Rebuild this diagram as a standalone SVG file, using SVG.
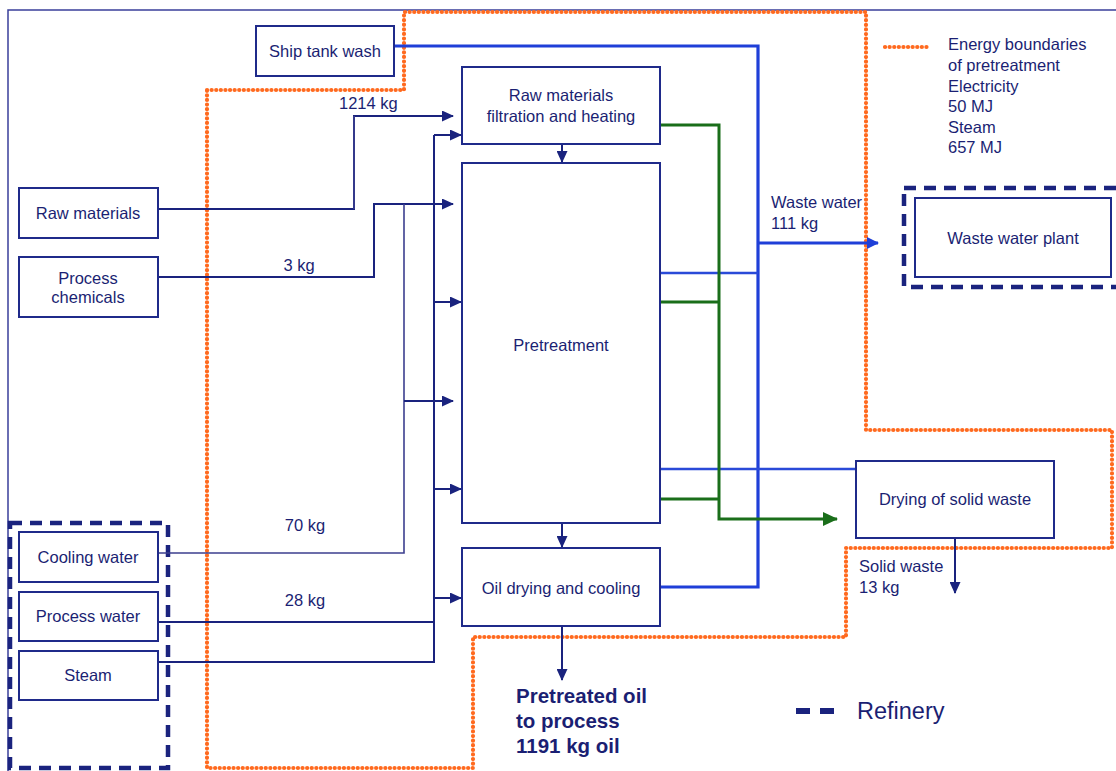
<svg xmlns="http://www.w3.org/2000/svg" width="1116" height="771" viewBox="0 0 1116 771">
<defs>
<style>
.t{font-family:"Liberation Sans",Arial,sans-serif;font-size:16.5px;fill:#1b1f73}
.b{font-family:"Liberation Sans",Arial,sans-serif;font-size:20.5px;font-weight:bold;fill:#1b1f73}
.box{fill:#fff;stroke:#1f2a8a;stroke-width:2}
.ref{fill:none;stroke:#1a237e;stroke-width:4.5;stroke-dasharray:12 8}
.orange{fill:none;stroke:#ff6a1f;stroke-width:4.2;stroke-linecap:round;stroke-dasharray:0.1 4.5}
.nv{fill:none;stroke:#1a237e;stroke-width:2}
.nvl{fill:none;stroke:#3c3f8f;stroke-width:1.6}
.bl{fill:none;stroke:#1f3fd8;stroke-width:3.2}
.bl2{fill:none;stroke:#2a4ad8;stroke-width:2.6}
.gr{fill:none;stroke:#1a6e1a;stroke-width:3}
</style>
<marker id="an" markerWidth="12" markerHeight="11" refX="11" refY="5.5" orient="auto" markerUnits="userSpaceOnUse"><path d="M0,0 L12,5.5 L0,11 Z" fill="#1a237e"/></marker>
<marker id="ab" markerWidth="12" markerHeight="12" refX="11" refY="6" orient="auto" markerUnits="userSpaceOnUse"><path d="M0,0 L12,6 L0,12 Z" fill="#1f3fd8"/></marker>
<marker id="ag" markerWidth="15" markerHeight="14" refX="14" refY="7" orient="auto" markerUnits="userSpaceOnUse"><path d="M0,0 L15,7 L0,14 Z" fill="#1a6e1a"/></marker>
</defs>
<rect width="1116" height="771" fill="#fff"/>
<path d="M8,771 L8,10 L1116,10" fill="none" stroke="#3a3f9a" stroke-width="1.5"/>

<!-- energy boundary -->
<path class="orange" d="M207,90 L404,90 L404,12 L866,12 L866,430 L1112,430 L1112,548 L846,548 L846,637 L473,637 L473,768 L207,768 Z"/>

<!-- refinery dashed boxes -->
<rect class="ref" x="10" y="523" width="158" height="245"/>
<rect class="ref" x="904" y="188" width="220" height="99"/>

<g id="connectors">
<!-- raw materials -->
<path class="nv" d="M158,209 L354,209 L354,116 L453,116" marker-end="url(#an)"/>
<path class="nvl" d="M354,209 L354,116"/>
<!-- process chemicals -->
<path class="nv" d="M158,277 L374,277 L374,204 L453,204" marker-end="url(#an)"/>
<!-- cooling water -->
<path class="nvl" d="M158,553 L404,553 L404,204"/>
<path class="nv" d="M404,401 L453,401" marker-end="url(#an)"/>
<!-- process water and steam -->
<path class="nv" d="M158,622 L434,622"/>
<path class="nv" d="M158,662 L434,662 L434,135"/>
<path class="nv" d="M434,135 L461,135" marker-end="url(#an)"/>
<path class="nv" d="M434,302 L461,302" marker-end="url(#an)"/>
<path class="nv" d="M434,489 L461,489" marker-end="url(#an)"/>
<path class="nv" d="M434,598 L461,598" marker-end="url(#an)"/>
<!-- vertical flow -->
<path class="nv" d="M562,144 L562,162" marker-end="url(#an)"/>
<path class="nv" d="M562,523 L562,547" marker-end="url(#an)"/>
<path class="nv" d="M562,626 L562,680" marker-end="url(#an)"/>
<path class="nv" d="M955,538 L955,593" marker-end="url(#an)"/>
<!-- blue waste water -->
<path class="bl" d="M394,46 L758,46 L758,587 L660,587"/>
<path class="bl" d="M758,243 L878,243" stroke-width="4" marker-end="url(#ab)"/>
<path class="bl2" d="M660,273 L758,273"/>
<path class="bl2" d="M660,469 L856,469"/>
<!-- green solid waste -->
<path class="gr" d="M660,125 L719,125 L719,519 L837,519" marker-end="url(#ag)"/>
<path class="gr" d="M660,302 L719,302"/>
<path class="gr" d="M660,499 L719,499"/>
</g>

<g id="ship-tank-wash"><rect class="box" x="256" y="26" width="138" height="50"/><text class="t" x="325" y="57" text-anchor="middle">Ship tank wash</text></g>
<g id="raw-materials"><rect class="box" x="19" y="188" width="139" height="50"/><text class="t" x="88" y="219" text-anchor="middle">Raw materials</text></g>
<g id="process-chemicals"><rect class="box" x="19" y="257" width="139" height="60"/><text class="t" x="88" y="284" text-anchor="middle">Process</text><text class="t" x="88" y="303" text-anchor="middle">chemicals</text></g>
<g id="cooling-water"><rect class="box" x="19" y="532" width="139" height="50"/><text class="t" x="88" y="563" text-anchor="middle">Cooling water</text></g>
<g id="process-water"><rect class="box" x="19" y="592" width="139" height="49"/><text class="t" x="88" y="622" text-anchor="middle">Process water</text></g>
<g id="steam"><rect class="box" x="19" y="651" width="139" height="49"/><text class="t" x="88" y="681" text-anchor="middle">Steam</text></g>
<g id="filtration"><rect class="box" x="462" y="67" width="198" height="77"/><text class="t" x="561" y="101" text-anchor="middle">Raw materials</text><text class="t" x="561" y="122" text-anchor="middle">filtration and heating</text></g>
<g id="pretreatment"><rect class="box" x="462" y="163" width="198" height="360"/><text class="t" x="561" y="351" text-anchor="middle">Pretreatment</text></g>
<g id="oil-drying"><rect class="box" x="462" y="548" width="198" height="78"/><text class="t" x="561" y="594" text-anchor="middle">Oil drying and cooling</text></g>
<g id="waste-water-plant"><rect class="box" x="915" y="198" width="196" height="79"/><text class="t" x="1013" y="244" text-anchor="middle">Waste water plant</text></g>
<g id="drying-solid"><rect class="box" x="856" y="461" width="198" height="77"/><text class="t" x="955" y="505" text-anchor="middle">Drying of solid waste</text></g>

<g id="labels">
<text class="t" x="339" y="109">1214 kg</text>
<text class="t" x="299" y="271" text-anchor="middle">3 kg</text>
<text class="t" x="305" y="531" text-anchor="middle">70 kg</text>
<text class="t" x="305" y="606" text-anchor="middle">28 kg</text>
<text class="t" x="771" y="208">Waste water</text>
<text class="t" x="771" y="229">111 kg</text>
<text class="t" x="859" y="572">Solid waste</text>
<text class="t" x="859" y="593">13 kg</text>
<text class="b" x="516" y="703">Pretreated oil</text>
<text class="b" x="516" y="728">to process</text>
<text class="b" x="516" y="753">1191 kg oil</text>
</g>

<g id="legend">
<path class="orange" d="M885,47 L928,47"/>
<text class="t" x="948" y="50">Energy boundaries</text>
<text class="t" x="948" y="71">of pretreatment</text>
<text class="t" x="948" y="92">Electricity</text>
<text class="t" x="948" y="112">50 MJ</text>
<text class="t" x="948" y="133">Steam</text>
<text class="t" x="948" y="153">657 MJ</text>
<path d="M796,711 L838,711" stroke="#1a237e" stroke-width="6" stroke-dasharray="14 10" fill="none"/>
<text class="t" x="857" y="719" style="font-size:23.5px">Refinery</text>
</g>
</svg>
